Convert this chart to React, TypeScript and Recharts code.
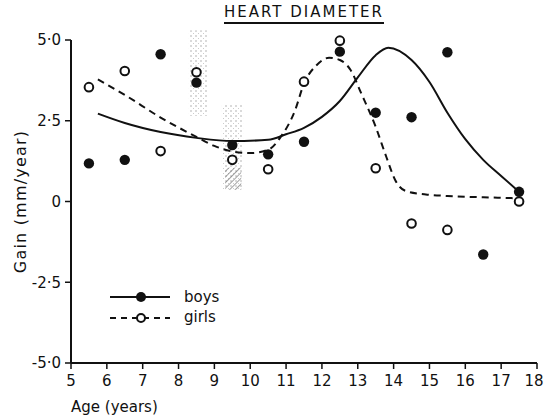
import React from "react";
import {
  ComposedChart,
  Line,
  Scatter,
  XAxis,
  YAxis,
  ReferenceArea,
} from "recharts";

// half-year ages where gains were measured
const ages = [5.5, 6.5, 7.5, 8.5, 9.5, 10.5, 11.5, 12.5, 13.5, 14.5, 15.5, 16.5, 17.5];
const boysGain = [1.18, 1.29, 4.56, 3.68, 1.75, 1.46, 1.85, 4.64, 2.75, 2.61, 4.62, -1.64, 0.3];
const girlsGain = [3.54, 4.04, 1.56, 4.0, 1.29, 1.0, 3.71, 4.98, 1.03, -0.68, -0.88, null, 0.0];

// smoothed curves
const boysCurveAge = [5.75, 6.5, 7.5, 8.5, 9.5, 10.5, 11, 11.5, 12, 12.5, 13, 13.5, 13.85, 14.5, 15, 15.5, 16, 16.5, 17, 17.45];
const boysCurveGain = [2.72, 2.43, 2.15, 1.97, 1.87, 1.91, 2.08, 2.28, 2.62, 3.11, 3.84, 4.53, 4.76, 4.38, 3.7, 2.75, 1.93, 1.29, 0.79, 0.35];
const girlsCurveAge = [5.75, 6.5, 7.5, 8.5, 9.0, 9.5, 10.0, 10.5, 10.85, 11.25, 11.5, 11.85, 12.2, 12.5, 12.8, 13.1, 13.5, 13.8, 14.05, 14.35, 14.9, 15.5, 16.5, 17.45];
const girlsCurveGain = [3.78, 3.3, 2.6, 2.0, 1.72, 1.55, 1.5, 1.6, 2.0, 2.82, 3.65, 4.22, 4.45, 4.38, 4.07, 3.34, 2.31, 1.37, 0.65, 0.32, 0.22, 0.17, 0.13, 0.1];

// shaded (stippled) ranges
const shadeAgeFrom = [8.29, 9.21];
const shadeAgeTo = [8.82, 9.8];
const shadeGainFrom = [2.65, 0.36];
const shadeGainTo = [5.3, 3.0];
// darker hatched part at the foot of the second range
const hatchAgeFrom = [9.3];
const hatchAgeTo = [9.75];
const hatchGainFrom = [0.36];
const hatchGainTo = [1.05];

const xTicks = [5, 6, 7, 8, 9, 10, 11, 12, 13, 14, 15, 16, 17, 18];
const yTicks = [-5, -2.5, 0, 2.5, 5];
const yTickLabels: Record<string, string> = {
  "-5": "-5·0",
  "-2.5": "-2·5",
  "0": "0",
  "2.5": "2·5",
  "5": "5·0",
};

const boysPts = ages.map((a, i) => ({ age: a, gain: boysGain[i] }));
const girlsPts = ages
  .map((a, i) => ({ age: a, gain: girlsGain[i] }))
  .filter((d) => d.gain !== null);
const boysCurve = boysCurveAge.map((a, i) => ({ age: a, gain: boysCurveGain[i] }));
const girlsCurve = girlsCurveAge.map((a, i) => ({ age: a, gain: girlsCurveGain[i] }));

const INK = "#111";
const FONT = "'DejaVu Sans', sans-serif";

const FilledDot = (p: any) => <circle cx={p.cx} cy={p.cy} r={5.2} fill={INK} />;
const OpenDot = (p: any) => (
  <circle cx={p.cx} cy={p.cy} r={4.3} fill="#fff" stroke={INK} strokeWidth={2} />
);

// x tick: pull the last label in a bit so it stays on the page
const XTick = (p: any) => {
  const v = p.payload.value;
  const shift = v === 18 ? -3 : 0;
  return (
    <text x={p.x + shift} y={p.y} dy={14} textAnchor="middle" fontSize={15} fill={INK}>
      {v}
    </text>
  );
};

const LegendBox = () => (
  <svg
    width={120}
    height={45}
    style={{ position: "absolute", left: 105, top: 285, fontFamily: FONT, overflow: "visible" }}
  >
    <line x1={5} x2={65} y1={12} y2={12} stroke={INK} strokeWidth={2} />
    <circle cx={36} cy={12} r={5} fill={INK} />
    <text x={79} y={17} fontSize={15} fill={INK}>boys</text>
    <line x1={5} x2={65} y1={33} y2={33} stroke={INK} strokeWidth={2} strokeDasharray="6 5" />
    <circle cx={36} cy={33} r={4} fill="#fff" stroke={INK} strokeWidth={2} />
    <text x={79} y={37} fontSize={15} fill={INK}>girls</text>
  </svg>
);

export default function App() {
  return (
    <div style={{ position: "absolute", left: 0, top: 0, width: 545, height: 418, background: "#fff" }}>
      <div
        style={{
          position: "absolute",
          left: 71,
          width: 466,
          top: 3,
          textAlign: "center",
          fontFamily: FONT,
          fontSize: 15,
          lineHeight: "18px",
          letterSpacing: 2,
          color: INK,
        }}
      >
        <span style={{ borderBottom: "2px solid #111", paddingBottom: 1 }}>HEART DIAMETER</span>
      </div>
      <ComposedChart
        width={545}
        height={418}
        margin={{ top: 40, right: 8, bottom: 0, left: 0 }}
        style={{ fontFamily: FONT }}
      >
        <defs>
          <pattern id="stipple" width="5" height="5" patternUnits="userSpaceOnUse">
            <circle cx="1" cy="1" r="0.7" fill="#999" />
            <circle cx="3.5" cy="3.5" r="0.5" fill="#bbb" />
          </pattern>
          <pattern id="hatch" width="4" height="4" patternUnits="userSpaceOnUse" patternTransform="rotate(45)">
            <line x1="0" y1="0" x2="0" y2="4" stroke="#666" strokeWidth="1.2" />
          </pattern>
        </defs>
        <XAxis
          dataKey="age"
          type="number"
          domain={[5, 18]}
          ticks={xTicks}
          height={55}
          axisLine={{ stroke: INK, strokeWidth: 2 }}
          tickLine={{ stroke: INK, strokeWidth: 1.5 }}
          tick={XTick}
          tickSize={6}
          tickMargin={3}
          allowDuplicatedCategory={false}
          label={{
            value: "Age (years)",
            position: "insideBottomLeft",
            offset: 6,
            dx: -6,
            fill: INK,
            fontSize: 15,
          }}
        />
        <YAxis
          type="number"
          domain={[-5, 5]}
          ticks={yTicks}
          width={71}
          axisLine={{ stroke: INK, strokeWidth: 2 }}
          tickLine={{ stroke: INK, strokeWidth: 1.5 }}
          tick={{ fill: INK, fontSize: 15 }}
          tickSize={6}
          tickMargin={4}
          tickFormatter={(v: number) => yTickLabels[String(v)] ?? String(v)}
          label={{
            value: "Gain (mm/year)",
            angle: -90,
            position: "insideLeft",
            offset: 20,
            fill: INK,
            fontSize: 16,
            style: { textAnchor: "middle", letterSpacing: 1.2 },
          }}
        />
        {shadeAgeFrom.map((x1, i) => (
          <ReferenceArea
            key={"s" + i}
            x1={x1}
            x2={shadeAgeTo[i]}
            y1={shadeGainFrom[i]}
            y2={shadeGainTo[i]}
            fill="url(#stipple)"
            fillOpacity={1}
            stroke="none"
            ifOverflow="visible"
          />
        ))}
        {hatchAgeFrom.map((x1, i) => (
          <ReferenceArea
            key={"h" + i}
            x1={x1}
            x2={hatchAgeTo[i]}
            y1={hatchGainFrom[i]}
            y2={hatchGainTo[i]}
            fill="url(#hatch)"
            fillOpacity={1}
            stroke="none"
            ifOverflow="visible"
          />
        ))}
        <Line
          data={boysCurve}
          dataKey="gain"
          type="monotone"
          stroke={INK}
          strokeWidth={2}
          dot={false}
          activeDot={false}
          isAnimationActive={false}
        />
        <Line
          data={girlsCurve}
          dataKey="gain"
          type="monotone"
          stroke={INK}
          strokeWidth={2}
          strokeDasharray="7 5"
          dot={false}
          activeDot={false}
          isAnimationActive={false}
        />
        <Scatter data={girlsPts} dataKey="gain" shape={OpenDot} isAnimationActive={false} />
        <Scatter data={boysPts} dataKey="gain" shape={FilledDot} isAnimationActive={false} />
      </ComposedChart>
      <LegendBox />
    </div>
  );
}
